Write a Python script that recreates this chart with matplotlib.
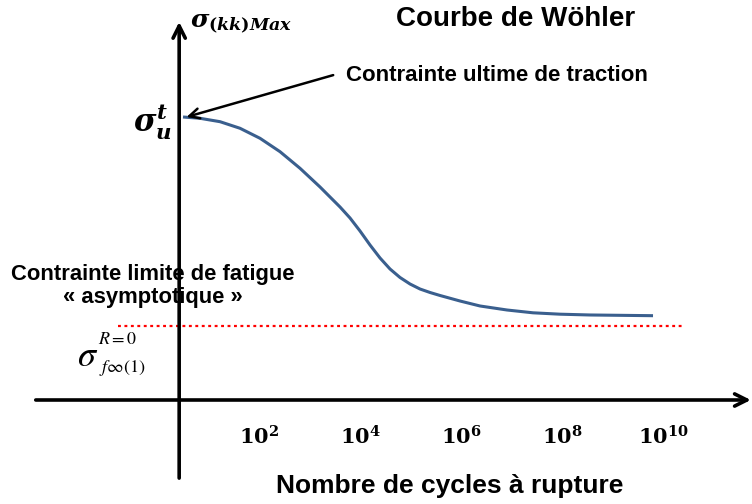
import numpy as np
import matplotlib
matplotlib.use("Agg")
import matplotlib.pyplot as plt

plt.rcParams["font.family"] = ["Liberation Sans", "DejaVu Sans"]
plt.rcParams["mathtext.fontset"] = "custom"
plt.rcParams["mathtext.rm"] = "DejaVu Serif:bold"
plt.rcParams["mathtext.it"] = "DejaVu Serif:italic:bold"
plt.rcParams["mathtext.bf"] = "DejaVu Serif:bold"

# Wöhler curve: log10(cycles) vs max stress (sigma_u = 100)
log_cycles = [0.416, 0.752, 1.149, 1.545, 1.941, 2.337, 2.733, 3.129, 3.327,
              3.525, 3.723, 3.921, 4.119, 4.317, 4.515, 4.713, 4.911, 5.109,
              5.307, 5.505, 5.901, 6.297, 6.832, 7.347, 7.881, 8.475, 9.723]
stress = [100.0, 99.54, 98.34, 96.01, 92.47, 87.74, 81.87, 75.27, 71.73,
          68.20, 64.31, 59.72, 54.77, 50.18, 46.29, 43.29, 40.99, 39.22,
          37.99, 36.93, 34.98, 33.22, 31.80, 30.81, 30.32, 30.04, 29.79]
sigma_u = 100.0
sigma_fatigue = 26.3
tick_decades = [2, 4, 6, 8, 10]

fig = plt.figure(figsize=(7.52, 5.04), dpi=100)
ax = fig.add_axes([0, 0, 1, 1])
ax.set_xlim(-3.208, 11.683)
ax.set_ylim(-36.75, 141.34)
ax.axis("off")

# axes drawn as arrows
ax.annotate("", xy=(11.66, 0), xytext=(-2.5, 0),
            arrowprops=dict(arrowstyle="->", lw=2.6, color="black",
                            mutation_scale=22, shrinkA=0, shrinkB=0))
ax.annotate("", xy=(0.34, 133.6), xytext=(0.34, -27.6),
            arrowprops=dict(arrowstyle="->", lw=2.6, color="black",
                            mutation_scale=22, shrinkA=0, shrinkB=0))

ax.plot(log_cycles, stress, color="#3A5F8E", lw=2.2, solid_capstyle="butt")
ax.plot([-0.87, 10.32], [sigma_fatigue, sigma_fatigue], color="red",
        lw=1.6, linestyle=(0, (1.3, 1.6)))

for k in tick_decades:
    ax.text(k - 0.08, -13.1, r"$\mathbf{10^{%d}}$" % k, fontsize=15,
            ha="center", va="center")

ax.text(5.70, -30.4, "Nombre de cycles à rupture", fontsize=19,
        fontweight="bold", ha="center", va="center")
ax.text(7.01, 134.6, "Courbe de Wöhler", fontsize=20, fontweight="bold",
        ha="center", va="center")
ax.text(1.56, 133.0, r"$\sigma_{(kk)Max}$", fontsize=18,
        ha="center", va="center")
ax.text(0.2, 98.2, r"$\sigma_u^t$", fontsize=22, ha="right", va="center")

ax.text(3.64, 114.8, "Contrainte ultime de traction", fontsize=16,
        fontweight="bold", ha="left", va="center")
ax.annotate("", xy=(log_cycles[0] + 0.07, sigma_u), xytext=(3.39, 114.8),
            arrowprops=dict(arrowstyle="->", lw=1.8, color="black",
                            mutation_scale=18, shrinkA=0, shrinkB=0))

ax.text(-0.18, 40.3, "Contrainte limite de fatigue\n« asymptotique »",
        fontsize=15.8, fontweight="bold", ha="center", va="center",
        linespacing=1.15)

ax.text(-1.47, 15.2, r"$\sigma$", fontsize=26, ha="center", va="center",
        math_fontfamily="stix")
ax.text(-0.87, 21.2, r"$R{=}0$", fontsize=13, ha="center", va="center",
        math_fontfamily="stix")
ax.text(-0.79, 11.3, r"$f\infty(1)$", fontsize=13, ha="center", va="center",
        math_fontfamily="stix")

fig.savefig("out.png", dpi=100)
